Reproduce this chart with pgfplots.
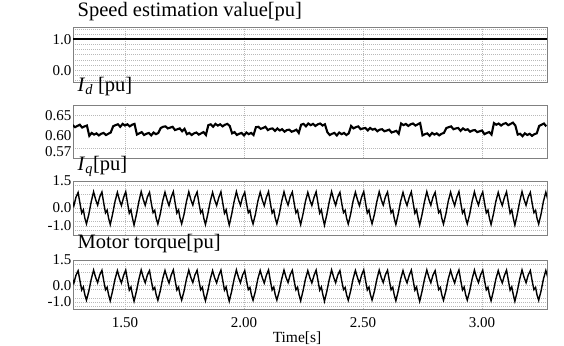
\documentclass[border=0pt]{standalone}
\usepackage{fontspec}
\setmainfont{Liberation Serif}
\usepackage{pgfplots}
\usepackage{pgfplotstable}
\pgfplotsset{compat=1.18}

\pgfplotstableread{
t v
1.28 0.626
1.29 0.621
1.30 0.624
1.31 0.627
1.32 0.620
1.33 0.623
1.34 0.625
1.35 0.600
1.36 0.607
1.37 0.603
1.38 0.606
1.39 0.601
1.40 0.605
1.41 0.607
1.42 0.602
1.43 0.605
1.44 0.608
1.45 0.623
1.46 0.626
1.47 0.628
1.48 0.622
1.49 0.629
1.50 0.625
1.51 0.628
1.52 0.623
1.53 0.627
1.54 0.629
1.55 0.603
1.56 0.606
1.57 0.609
1.58 0.602
1.59 0.605
1.60 0.607
1.61 0.601
1.62 0.608
1.63 0.604
1.64 0.607
1.65 0.619
1.66 0.622
1.67 0.623
1.68 0.618
1.69 0.620
1.70 0.622
1.71 0.614
1.72 0.616
1.73 0.618
1.74 0.611
1.75 0.617
1.76 0.604
1.77 0.607
1.78 0.602
1.79 0.606
1.80 0.608
1.81 0.603
1.82 0.606
1.83 0.609
1.84 0.602
1.85 0.626
1.86 0.628
1.87 0.622
1.88 0.629
1.89 0.625
1.90 0.628
1.91 0.623
1.92 0.627
1.93 0.629
1.94 0.624
1.95 0.606
1.96 0.609
1.97 0.602
1.98 0.605
1.99 0.607
2.00 0.601
2.01 0.608
2.02 0.604
2.03 0.607
2.04 0.602
2.05 0.621
2.06 0.622
2.07 0.617
2.08 0.619
2.09 0.622
2.10 0.614
2.11 0.617
2.12 0.618
2.13 0.612
2.14 0.618
2.15 0.613
2.16 0.616
2.17 0.610
2.18 0.614
2.19 0.615
2.20 0.610
2.21 0.612
2.22 0.615
2.23 0.607
2.24 0.627
2.25 0.629
2.26 0.623
2.27 0.630
2.28 0.626
2.29 0.629
2.30 0.624
2.31 0.628
2.32 0.630
2.33 0.625
2.34 0.628
2.35 0.609
2.36 0.602
2.37 0.605
2.38 0.607
2.39 0.601
2.40 0.608
2.41 0.604
2.42 0.607
2.43 0.602
2.44 0.606
2.45 0.624
2.46 0.618
2.47 0.621
2.48 0.623
2.49 0.616
2.50 0.618
2.51 0.619
2.52 0.613
2.53 0.619
2.54 0.615
2.55 0.617
2.56 0.611
2.57 0.615
2.58 0.616
2.59 0.611
2.60 0.613
2.61 0.615
2.62 0.608
2.63 0.610
2.64 0.612
2.65 0.605
2.66 0.630
2.67 0.626
2.68 0.629
2.69 0.624
2.70 0.628
2.71 0.630
2.72 0.625
2.73 0.628
2.74 0.631
2.75 0.601
2.76 0.604
2.77 0.606
2.78 0.600
2.79 0.607
2.80 0.603
2.81 0.606
2.82 0.601
2.83 0.605
2.84 0.607
2.85 0.619
2.86 0.621
2.87 0.623
2.88 0.616
2.89 0.618
2.90 0.619
2.91 0.612
2.92 0.618
2.93 0.614
2.94 0.616
2.95 0.610
2.96 0.613
2.97 0.614
2.98 0.609
2.99 0.611
3.00 0.613
3.01 0.604
3.02 0.607
3.03 0.609
3.04 0.603
3.05 0.631
3.06 0.627
3.07 0.630
3.08 0.625
3.09 0.629
3.10 0.631
3.11 0.626
3.12 0.629
3.13 0.632
3.14 0.625
3.15 0.603
3.16 0.605
3.17 0.599
3.18 0.606
3.19 0.602
3.20 0.605
3.21 0.600
3.22 0.604
3.23 0.606
3.24 0.624
3.25 0.627
3.26 0.630
3.27 0.623
}\iddata

\pgfplotstableread{
t v
1.277 0.45
1.285 0.12
1.294 0.60
1.303 0.86
1.311 0.25
1.318 -0.28
1.325 -0.10
1.331 -0.55
1.338 -0.88
1.348 -0.35
1.358 0.35
1.368 0.90
1.377 0.45
1.385 0.16
1.394 0.62
1.403 0.89
1.411 0.24
1.418 -0.27
1.425 -0.12
1.431 -0.56
1.438 -0.92
1.448 -0.33
1.458 0.36
1.468 0.87
1.477 0.43
1.485 0.14
1.494 0.58
1.503 0.90
1.511 0.26
1.518 -0.29
1.525 -0.10
1.531 -0.54
1.538 -0.95
1.548 -0.36
1.558 0.34
1.568 0.91
1.577 0.46
1.585 0.15
1.594 0.61
1.603 0.87
1.611 0.23
1.618 -0.26
1.625 -0.13
1.631 -0.57
1.638 -0.89
1.648 -0.34
1.658 0.37
1.668 0.88
1.677 0.44
1.685 0.13
1.694 0.60
1.703 0.91
1.711 0.25
1.718 -0.28
1.725 -0.11
1.731 -0.55
1.738 -0.88
1.748 -0.35
1.758 0.35
1.768 0.90
1.777 0.45
1.785 0.16
1.794 0.62
1.803 0.89
1.811 0.24
1.818 -0.27
1.825 -0.12
1.831 -0.56
1.838 -0.92
1.848 -0.33
1.858 0.36
1.868 0.87
1.877 0.43
1.885 0.14
1.894 0.58
1.903 0.90
1.911 0.26
1.918 -0.29
1.925 -0.10
1.931 -0.54
1.938 -0.95
1.948 -0.36
1.958 0.34
1.968 0.91
1.977 0.46
1.985 0.15
1.994 0.61
2.003 0.87
2.011 0.23
2.018 -0.26
2.025 -0.13
2.031 -0.57
2.038 -0.89
2.048 -0.34
2.058 0.37
2.068 0.88
2.077 0.44
2.085 0.13
2.094 0.60
2.103 0.91
2.111 0.25
2.118 -0.28
2.125 -0.11
2.131 -0.55
2.138 -0.88
2.148 -0.35
2.158 0.35
2.168 0.90
2.177 0.45
2.185 0.16
2.194 0.62
2.203 0.89
2.211 0.24
2.218 -0.27
2.225 -0.12
2.231 -0.56
2.238 -0.92
2.248 -0.33
2.258 0.36
2.268 0.87
2.277 0.43
2.285 0.14
2.294 0.58
2.303 0.90
2.311 0.26
2.318 -0.29
2.325 -0.10
2.331 -0.54
2.338 -0.95
2.348 -0.36
2.358 0.34
2.368 0.91
2.377 0.46
2.385 0.15
2.394 0.61
2.403 0.87
2.411 0.23
2.418 -0.26
2.425 -0.13
2.431 -0.57
2.438 -0.89
2.448 -0.34
2.458 0.37
2.468 0.88
2.477 0.44
2.485 0.13
2.494 0.60
2.503 0.91
2.511 0.25
2.518 -0.28
2.525 -0.11
2.531 -0.55
2.538 -0.88
2.548 -0.35
2.558 0.35
2.568 0.90
2.577 0.45
2.585 0.16
2.594 0.62
2.603 0.89
2.611 0.24
2.618 -0.27
2.625 -0.12
2.631 -0.56
2.638 -0.92
2.648 -0.33
2.658 0.36
2.668 0.87
2.677 0.43
2.685 0.14
2.694 0.58
2.703 0.90
2.711 0.26
2.718 -0.29
2.725 -0.10
2.731 -0.54
2.738 -0.95
2.748 -0.36
2.758 0.34
2.768 0.91
2.777 0.46
2.785 0.15
2.794 0.61
2.803 0.87
2.811 0.23
2.818 -0.26
2.825 -0.13
2.831 -0.57
2.838 -0.89
2.848 -0.34
2.858 0.37
2.868 0.88
2.877 0.44
2.885 0.13
2.894 0.60
2.903 0.91
2.911 0.25
2.918 -0.28
2.925 -0.11
2.931 -0.55
2.938 -0.88
2.948 -0.35
2.958 0.35
2.968 0.90
2.977 0.45
2.985 0.16
2.994 0.62
3.003 0.89
3.011 0.24
3.018 -0.27
3.025 -0.12
3.031 -0.56
3.038 -0.92
3.048 -0.33
3.058 0.36
3.068 0.87
3.077 0.43
3.085 0.14
3.094 0.58
3.103 0.90
3.111 0.26
3.118 -0.29
3.125 -0.10
3.131 -0.54
3.138 -0.95
3.148 -0.36
3.158 0.34
3.168 0.91
3.177 0.46
3.185 0.15
3.194 0.61
3.203 0.87
3.211 0.23
3.218 -0.26
3.225 -0.13
3.231 -0.57
3.238 -0.89
3.248 -0.34
3.258 0.37
3.268 0.88
3.277 0.44
}\iqdata

\pgfplotsset{
  panel/.style={
    scale only axis, width=474pt,
    xmin=1.2815, xmax=3.273,
    xtick={1.5,2,2.5,3},
    xticklabels={},
    xmajorgrids, ymajorgrids, yminorgrids,
    major grid style={dash pattern=on 1pt off 1pt, gray!55, line width=0.5pt},
    minor grid style={dash pattern=on 1pt off 1pt, gray!55, line width=0.5pt},
    axis line style={draw=gray, line width=1pt},
    major tick length=0pt, minor tick length=0pt,
    yticklabel style={font=\fontsize{15}{15}\selectfont, inner xsep=1.5pt, inner ysep=0pt},
    xticklabel style={font=\fontsize{15}{15}\selectfont, yshift=-5pt},
    title style={font=\fontsize{20.5}{20.5}\selectfont, at={(axis description cs:0,1)}, anchor=base west, inner sep=0pt, xshift=4.5pt},
    anchor=north west,
  }
}

\begin{document}
\begin{tikzpicture}
\useasboundingbox (0pt,0pt) rectangle (564pt,-345pt);

\begin{axis}[panel, at={(73pt,-28pt)}, height=54pt,
  ymin=-0.38, ymax=1.36,
  ytick={0,1}, yticklabels={0.0,1.0},
  minor ytick={-0.333,-0.167,0.167,0.333,0.5,0.667,0.833,1.167,1.333},
  title={Speed estimation value[pu]}, title style={yshift=5.3pt}]
\addplot[black, line width=1.7pt] coordinates {(1.27,1.0) (2.0,1.0) (2.5,1.0) (3.28,1.0)};
\end{axis}

\begin{axis}[panel, at={(73pt,-105pt)}, height=53pt,
  ymin=0.546, ymax=0.675,
  ytick={0.60,0.65}, yticklabels={0.60,0.65},
  extra y ticks={0.57}, extra y tick labels={0.57},
  extra y tick style={yticklabel style={yshift=-3pt}},
  ymajorgrids=false,
  minor ytick={0.57,0.65},
  title={\textit{I}\textsubscript{\textit{d}} [pu]}, title style={yshift=7.7pt}]
\addplot[black, line width=2.1pt] table[x=t, y=v] {\iddata};
\end{axis}

\begin{axis}[panel, at={(73pt,-181pt)}, height=54pt,
  ymin=-1.5, ymax=1.5,
  ytick={-1,0,1.5}, yticklabels={-1.0,0.0,1.5},
  minor ytick={-1.25,-0.75,-0.25,0.25,0.75,1.25},
  title={\textit{I}\textsubscript{\textit{q}}[pu]}, title style={yshift=4.3pt}]
\addplot[black, line width=1.4pt] table[x=t, y=v] {\iqdata};
\end{axis}

\begin{axis}[panel, at={(73pt,-260pt)}, height=49pt,
  ymin=-1.41, ymax=1.5,
  ytick={-1,0,1.5}, yticklabels={-1.0,0.0,1.5},
  minor ytick={-1.25,-0.75,-0.25,0.25,0.75,1.25},
  xticklabels={1.50,2.00,2.50,3.00},
  xlabel={Time[s]},
  xlabel style={font=\fontsize{15.5}{15.5}\selectfont, at={(axis description cs:0.4726,0)}, anchor=north, inner sep=0pt, yshift=-22.3pt},
  title={Motor torque[pu]}, title style={yshift=5.7pt}]
\addplot[black, line width=1.4pt] table[x=t, y=v] {\iqdata};
\end{axis}
\end{tikzpicture}
\end{document}
